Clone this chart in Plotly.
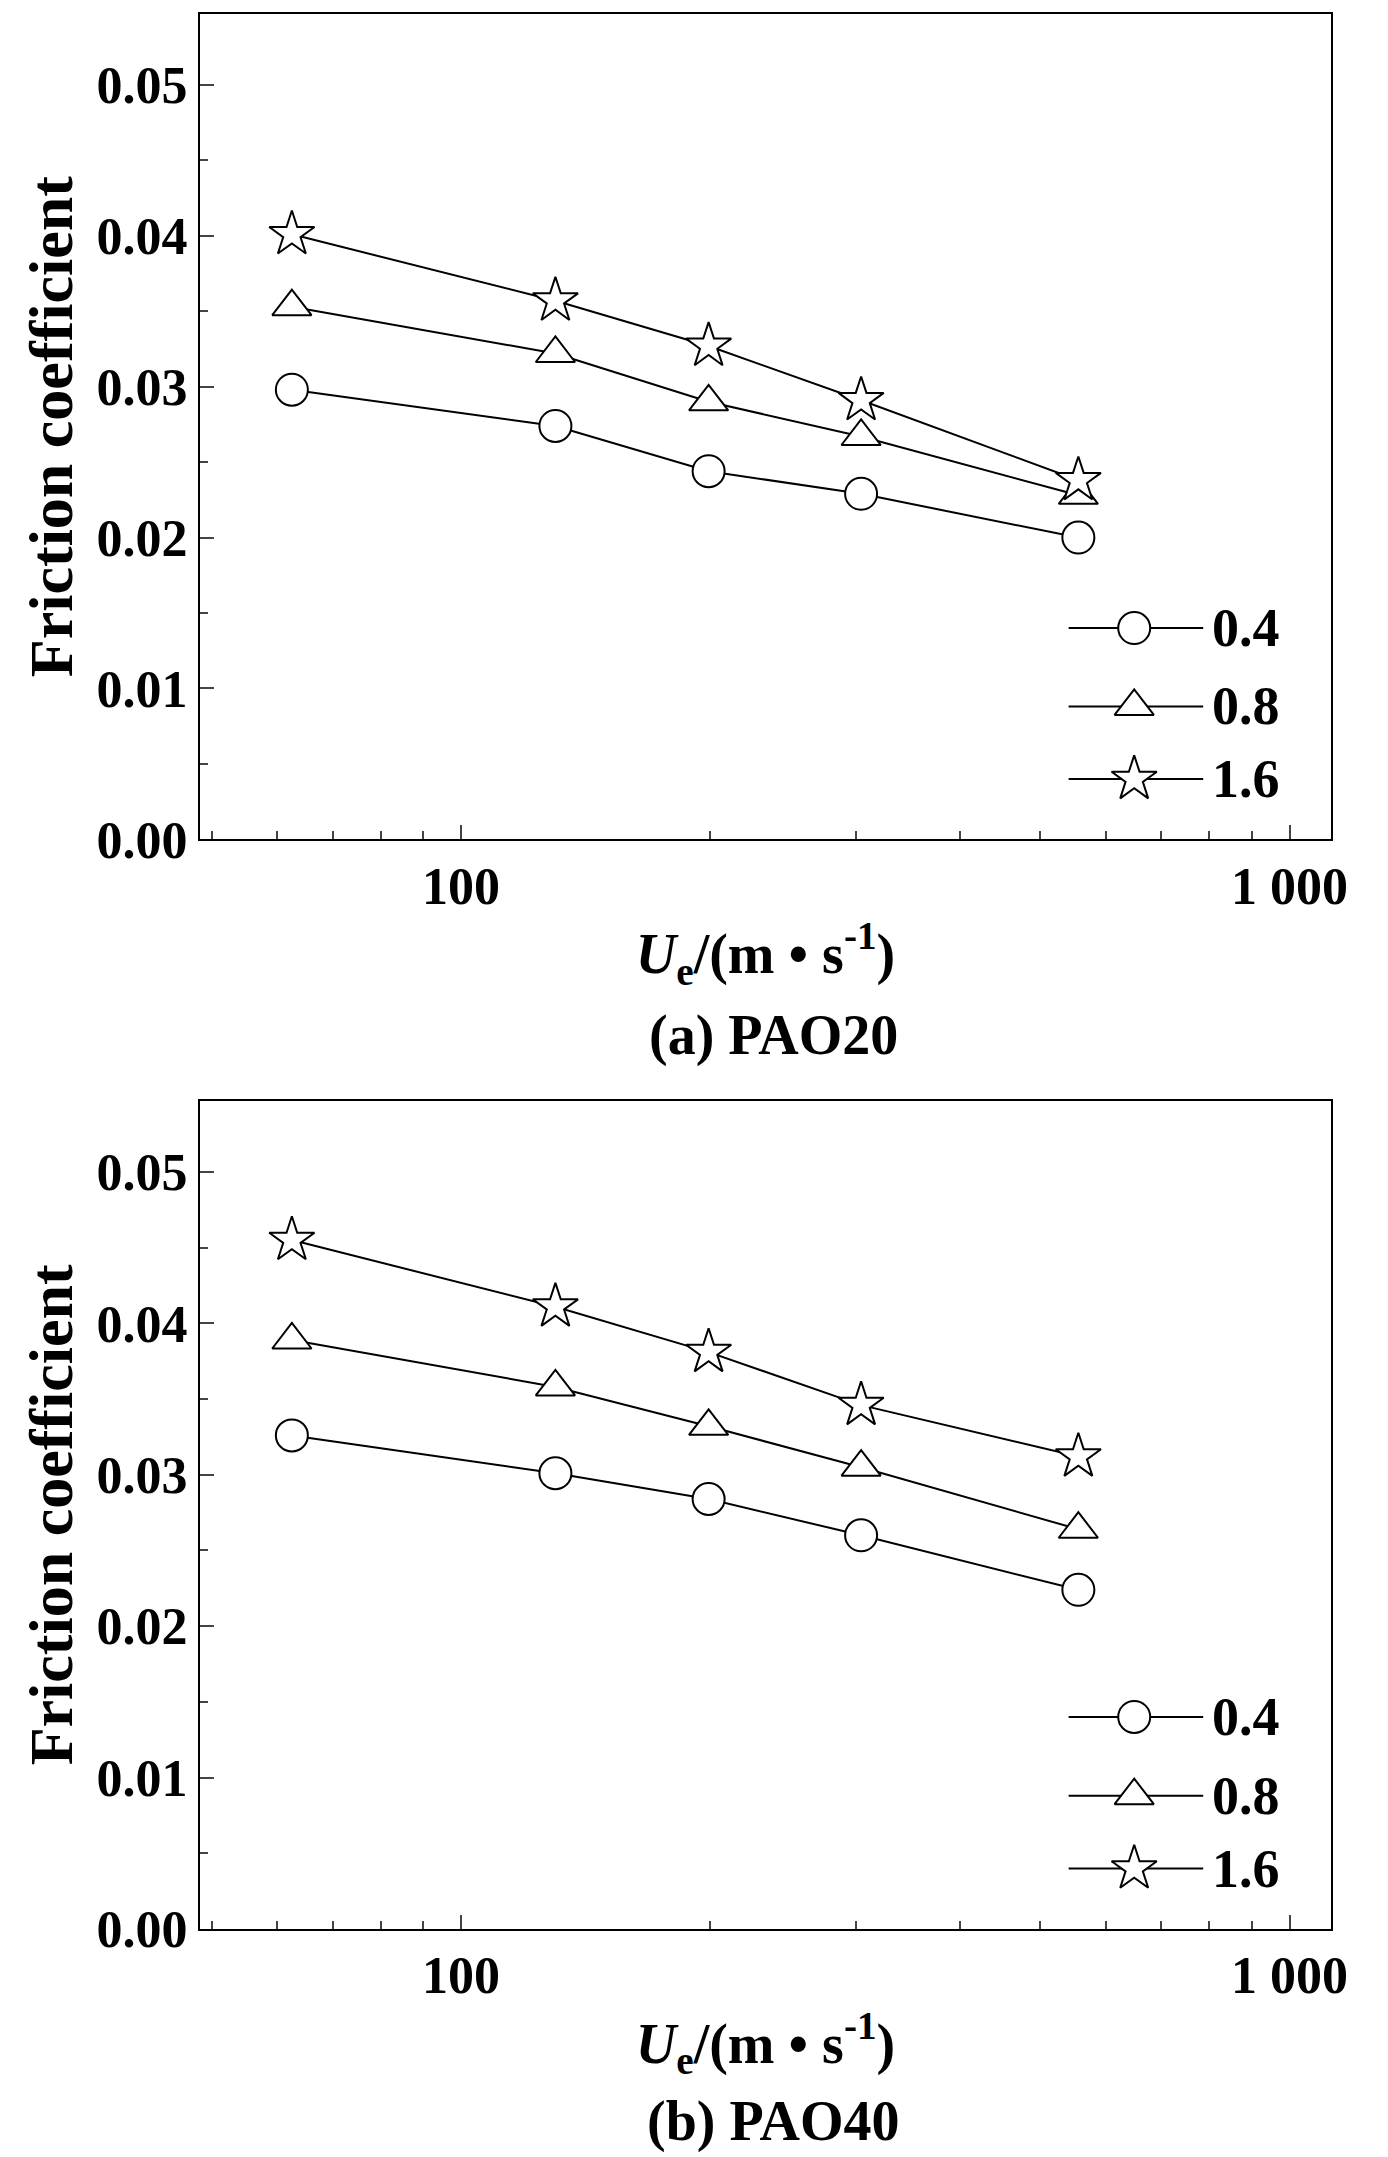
import plotly.graph_objects as go

speeds = [62.5, 130, 199, 304, 556]
series_names = ["0.4", "0.8", "1.6"]
pao20 = [[0.0298, 0.0274, 0.0244, 0.0229, 0.0200],
         [0.0353, 0.0322, 0.0290, 0.0267, 0.0228],
         [0.0401, 0.0357, 0.0327, 0.0291, 0.0238]]
pao40 = [[0.0326, 0.0301, 0.0284, 0.0260, 0.0224],
         [0.0389, 0.0358, 0.0332, 0.0305, 0.0264],
         [0.0455, 0.0411, 0.0381, 0.0346, 0.0312]]
symbols = ["circle", "triangle-up", "star"]
sizes = [32, 34, 34]
captions = ["(a) PAO20", "(b) PAO40"]
legend_rows = [0.256, 0.161, 0.073]

F = "Liberation Serif"
fig = go.Figure()
domains = [[0.569, 1.0], [0.0, 0.4325]]
mk = lambda i: dict(symbol=symbols[i], size=sizes[i], color="white", line=dict(width=2, color="black"))

for r, data in enumerate([pao20, pao40]):
    xa, ya = ("x", "y") if r == 0 else ("x2", "y2")
    la, lya = ("x3", "y3") if r == 0 else ("x4", "y4")
    for i, vals in enumerate(data):
        fig.add_trace(go.Scatter(x=speeds, y=vals, name=series_names[i], mode="lines+markers",
                                 line=dict(color="black", width=2), showlegend=False,
                                 marker=mk(i), xaxis=xa, yaxis=ya))
        fig.add_trace(go.Scatter(x=[0.768, 0.887], y=[legend_rows[i]] * 2, mode="lines",
                                 line=dict(color="black", width=2), showlegend=False,
                                 xaxis=la, yaxis=lya, hoverinfo="skip"))
        fig.add_trace(go.Scatter(x=[0.826], y=[legend_rows[i]], mode="markers", showlegend=False,
                                 marker=mk(i), xaxis=la, yaxis=lya, hoverinfo="skip"))
        fig.add_annotation(text="<b>" + series_names[i] + "</b>", x=0.893, y=legend_rows[i],
                           xref=la, yref=lya, xanchor="left", showarrow=False,
                           font=dict(family=F, size=54, color="black"))
    sfx = "" if r == 0 else "2"
    main_x = "x" + sfx
    main_y = "y" + sfx
    common_x = dict(type="log", range=[1.685, 3.05], tickvals=[100, 1000],
                    ticktext=["<b>100</b>", "<b>1 000</b>"], ticks="inside", ticklen=14, tickwidth=2,
                    showline=True, linewidth=2, linecolor="black", mirror=True, showgrid=False,
                    minor=dict(ticks="inside", ticklen=8, tickwidth=2,
                               tickvals=[50, 60, 70, 80, 90, 200, 300, 400, 500, 600, 700, 800, 900]),
                    tickfont=dict(family=F, size=52, color="black"),
                    title=dict(text="<b><i>U</i><sub>e</sub>/(m • s<sup>-1</sup>)</b>",
                               font=dict(family=F, size=56, color="black"), standoff=20),
                    anchor=main_y)
    common_y = dict(range=[0, 0.0547], tickvals=[0, 0.01, 0.02, 0.03, 0.04, 0.05],
                    ticktext=["<b>%.2f</b>" % v for v in [0, 0.01, 0.02, 0.03, 0.04, 0.05]],
                    ticks="inside", ticklen=14, tickwidth=2, showline=True, linewidth=2, linecolor="black",
                    mirror=True, showgrid=False, zeroline=False,
                    minor=dict(ticks="inside", ticklen=8, tickwidth=2, dtick=0.005),
                    tickfont=dict(family=F, size=52, color="black"),
                    title=dict(text="<b>Friction coefficient</b>", font=dict(family=F, size=62, color="black"),
                               standoff=4),
                    domain=domains[r], anchor=main_x)
    fig.update_layout(**{"xaxis" + sfx: common_x, "yaxis" + sfx: common_y})
    lsx = "3" if r == 0 else "4"
    fig.update_layout(**{"xaxis" + lsx: dict(range=[0, 1], visible=False, overlaying=main_x, anchor="y" + lsx),
                         "yaxis" + lsx: dict(range=[0, 1], visible=False, overlaying=main_y, anchor="x" + lsx)})

fig.update_layout(font=dict(family=F), plot_bgcolor="white", paper_bgcolor="white", showlegend=False,
                  width=1388, height=2157, margin=dict(l=192, r=65, t=4, b=236))
for txt, yy in zip(captions, [0.4665, -0.118]):
    fig.add_annotation(text="<b>" + txt + "</b>", x=0.507, y=yy, xref="paper", yref="paper",
                       showarrow=False, font=dict(family=F, size=56, color="black"))
fig.write_html("out.html")
